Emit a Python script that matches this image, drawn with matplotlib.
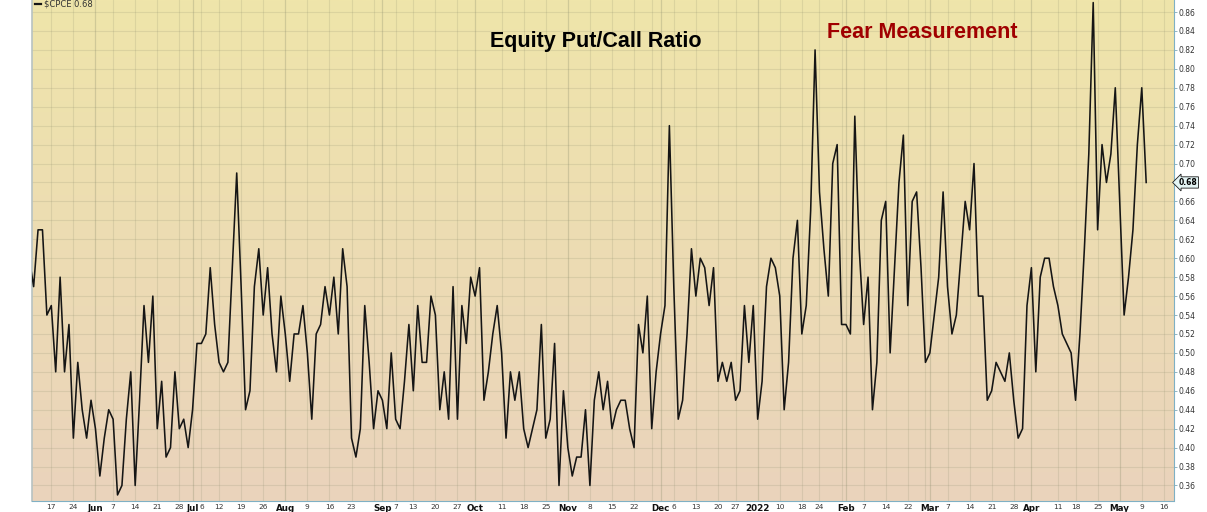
#!/usr/bin/env python3
# Equity put/call ratio ($CPCE), daily closes, May 2021 - May 2022.

import numpy as np
import pandas as pd
import matplotlib
matplotlib.use("Agg")
import matplotlib.pyplot as plt
import matplotlib.transforms as mtransforms

# Daily closes, one list per month (trading days only).
May21 = [0.60, 0.57, 0.63, 0.63, 0.54, 0.55, 0.48, 0.58, 0.48, 0.53, 0.41, 0.49, 0.44, 0.41, 0.45]
Jun21 = [0.42, 0.37, 0.41, 0.44, 0.43, 0.35, 0.36, 0.43, 0.48, 0.36, 0.45, 0.55, 0.49, 0.56, 0.42,
         0.47, 0.39, 0.40, 0.48, 0.42, 0.43, 0.40]
Jul21 = [0.44, 0.51, 0.51, 0.52, 0.59, 0.53, 0.49, 0.48, 0.49, 0.59, 0.69, 0.57, 0.44, 0.46, 0.57,
         0.61, 0.54, 0.59, 0.52, 0.48, 0.56]
Aug21 = [0.52, 0.47, 0.52, 0.52, 0.55, 0.50, 0.43, 0.52, 0.53, 0.57, 0.54, 0.58, 0.52, 0.61, 0.57,
         0.41, 0.39, 0.42, 0.55, 0.49, 0.42, 0.46]
Sep21 = [0.45, 0.42, 0.50, 0.43, 0.42, 0.47, 0.53, 0.46, 0.55, 0.49, 0.49, 0.56, 0.54, 0.44, 0.48,
         0.43, 0.57, 0.43, 0.55, 0.51, 0.58]
Oct21 = [0.56, 0.59, 0.45, 0.48, 0.52, 0.55, 0.50, 0.41, 0.48, 0.45, 0.48, 0.42, 0.40, 0.42, 0.44,
         0.53, 0.41, 0.43, 0.51, 0.36, 0.46]
Nov21 = [0.40, 0.37, 0.39, 0.39, 0.44, 0.36, 0.45, 0.48, 0.44, 0.47, 0.42, 0.44, 0.45, 0.45, 0.42,
         0.40, 0.53, 0.50, 0.56, 0.42, 0.48]
Dec21 = [0.52, 0.55, 0.74, 0.57, 0.43, 0.45, 0.52, 0.61, 0.56, 0.60, 0.59, 0.55, 0.59, 0.47, 0.49,
         0.47, 0.49, 0.45, 0.46, 0.55, 0.49, 0.55]
Jan22 = [0.43, 0.47, 0.57, 0.60, 0.59, 0.56, 0.44, 0.49, 0.60, 0.64, 0.52, 0.55, 0.65, 0.82, 0.67,
         0.61, 0.56, 0.70, 0.72, 0.53]
Feb22 = [0.53, 0.52, 0.75, 0.61, 0.53, 0.58, 0.44, 0.49, 0.64, 0.66, 0.50, 0.59, 0.68, 0.73, 0.55,
         0.66, 0.67, 0.59, 0.49]
Mar22 = [0.50, 0.54, 0.58, 0.67, 0.57, 0.52, 0.54, 0.60, 0.66, 0.63, 0.70, 0.56, 0.56, 0.45, 0.46,
         0.49, 0.48, 0.47, 0.50, 0.45, 0.41, 0.42, 0.55]
Apr22 = [0.59, 0.48, 0.58, 0.60, 0.60, 0.57, 0.55, 0.52, 0.51, 0.50, 0.45, 0.52, 0.61, 0.71, 0.87,
         0.63, 0.72, 0.68, 0.71, 0.78]
May22 = [0.66, 0.54, 0.58, 0.63, 0.72, 0.78, 0.68]

# Market holidays inside the window.
Holidays = ['2021-05-31', '2021-07-05', '2021-09-06', '2021-11-25', '2021-12-24',
            '2022-01-17', '2022-02-21', '2022-04-15']

# Weekly / monthly axis ticks (blank label = grid line only).
TickDates = ['2021-05-17', '2021-05-24', '2021-06-01', '2021-06-07', '2021-06-14', '2021-06-21',
             '2021-06-28', '2021-07-01', '2021-07-06', '2021-07-12', '2021-07-19', '2021-07-26',
             '2021-08-02', '2021-08-09', '2021-08-16', '2021-08-23', '2021-08-30', '2021-09-01',
             '2021-09-07', '2021-09-13', '2021-09-20', '2021-09-27', '2021-10-01', '2021-10-11',
             '2021-10-18', '2021-10-25', '2021-11-01', '2021-11-08', '2021-11-15', '2021-11-22',
             '2021-11-29', '2021-12-01', '2021-12-06', '2021-12-13', '2021-12-20', '2021-12-27',
             '2022-01-03', '2022-01-10', '2022-01-18', '2022-01-24', '2022-01-31', '2022-02-01',
             '2022-02-07', '2022-02-14', '2022-02-22', '2022-02-28', '2022-03-01', '2022-03-07',
             '2022-03-14', '2022-03-21', '2022-03-28', '2022-04-01', '2022-04-11', '2022-04-18',
             '2022-04-25', '2022-05-02', '2022-05-09', '2022-05-16']
TickLabels = ['17', '24', 'Jun', '7', '14', '21',
              '28', 'Jul', '6', '12', '19', '26',
              'Aug', '9', '16', '23', '', 'Sep',
              '7', '13', '20', '27', 'Oct', '11',
              '18', '25', 'Nov', '8', '15', '22',
              '', 'Dec', '6', '13', '20', '27',
              '2022', '10', '18', '24', '', 'Feb',
              '7', '14', '22', '', 'Mar', '7',
              '14', '21', '28', 'Apr', '11', '18',
              '25', 'May', '9', '16']
MonthLabels = ['Jun', 'Jul', 'Aug', 'Sep', 'Oct', 'Nov', 'Dec', '2022', 'Feb', 'Mar', 'Apr', 'May']

YTicks = np.round(np.arange(0.36, 0.861, 0.02), 2)
LastValue = 0.68

Values = np.array(May21 + Jun21 + Jul21 + Aug21 + Sep21 + Oct21 + Nov21 + Dec21 +
                  Jan22 + Feb22 + Mar22 + Apr22 + May22)

# Trading-day calendar, extended a week past the data so the last ticks fit.
Days = pd.bdate_range('2021-05-10', '2022-05-20', freq='C', holidays=Holidays)
DayIndex = {d.strftime('%Y-%m-%d'): i for i, d in enumerate(Days)}
X = np.arange(len(Values))
TickPos = [DayIndex[d] for d in TickDates]

# Figure and axes placed to match the reference pixel layout.
Fig = plt.figure(figsize=(12.07, 5.12), dpi=100, facecolor='white')
Ax = Fig.add_axes([32 / 1207, 11 / 512, 1142 / 1207, 501 / 512])

XMin, XMax = 0.63, 259.3
YMin, YMax = 0.3436, 0.8727

# Yellow-to-peach vertical gradient background.
Top = np.array([239, 229, 170]) / 255
Bottom = np.array([234, 211, 188]) / 255
t = np.linspace(0, 1, 256)[:, None]
Grad = (Top[None, :] * (1 - t) + Bottom[None, :] * t)[:, None, :]
Ax.imshow(Grad, extent=[XMin, XMax, YMin, YMax], aspect='auto', zorder=0, origin='upper')

# Grid: horizontal every 0.02, vertical at each tick, months a bit darker.
GridColour = '#8f9070'
for y in YTicks:
    Ax.axhline(y, color=GridColour, alpha=0.2, lw=0.8, zorder=1)
for pos, lab in zip(TickPos, TickLabels):
    Strong = lab in MonthLabels
    Ax.axvline(pos, color=GridColour, alpha=0.32 if Strong else 0.2, lw=0.9 if Strong else 0.8, zorder=1)

Ax.plot(X, Values, color='#151515', lw=1.15, zorder=3)

Ax.set_xlim(XMin, XMax)
Ax.set_ylim(YMin, YMax)

# Axis ticks and labels.
Ax.set_xticks(TickPos)
Ax.set_xticklabels(TickLabels)
for lab in Ax.get_xticklabels():
    if lab.get_text() in MonthLabels:
        lab.set_fontweight('bold')
        lab.set_fontsize(6.3)
        lab.set_color('#111111')
    else:
        lab.set_fontsize(5.3)
        lab.set_color('#333333')
Ax.tick_params(axis='x', length=0, pad=2.5)

Ax.yaxis.tick_right()
Ax.set_yticks(YTicks)
Ax.set_yticklabels(['' if abs(v - LastValue) < 1e-6 else '%.2f' % v for v in YTicks])
Ax.tick_params(axis='y', length=2, width=0.6, pad=1.5, labelsize=5.5, color='#7fa9b8', labelcolor='#333333')

# Spines: plain left edge, dotted right and bottom, no top.
Ax.spines['top'].set_visible(False)
Ax.spines['left'].set_color('#b7c2c2')
Ax.spines['left'].set_linewidth(1.2)
for side in ['right', 'bottom']:
    Ax.spines[side].set_color('#7fb0c4')
    Ax.spines[side].set_linestyle((0, (1, 1)))
    Ax.spines[side].set_linewidth(0.8)

# Last value marker on the right axis.
Trans = mtransforms.blended_transform_factory(Ax.transAxes, Ax.transData)
Ax.text(1.004, LastValue, '%.2f' % LastValue, transform=Trans, ha='left', va='center',
        fontsize=5.5, fontweight='bold', color='black', clip_on=False,
        bbox=dict(boxstyle='larrow,pad=0.15', fc='#e4f5f5', ec='#1a1a1a', lw=0.6))

# Legend in the top left corner.
Ax.plot([0.003, 0.008], [0.993, 0.993], transform=Ax.transAxes, color='#151515', lw=1.6, clip_on=False)
Ax.text(0.0105, 0.993, '$CPCE 0.68', transform=Ax.transAxes, ha='left', va='center',
        fontsize=6, color='#333333')

# Annotations.
Fig.text(595.5 / 1207, 1 - 42 / 512, 'Equity Put/Call Ratio', ha='center', va='center',
         fontsize=15.5, fontweight='bold', family='Liberation Sans', color='black')
Fig.text(922 / 1207, 1 - 32 / 512, 'Fear Measurement', ha='center', va='center',
         fontsize=15.5, fontweight='bold', family='Liberation Sans', color='#a00000')

Fig.savefig('out.png', dpi=100, facecolor='white')
